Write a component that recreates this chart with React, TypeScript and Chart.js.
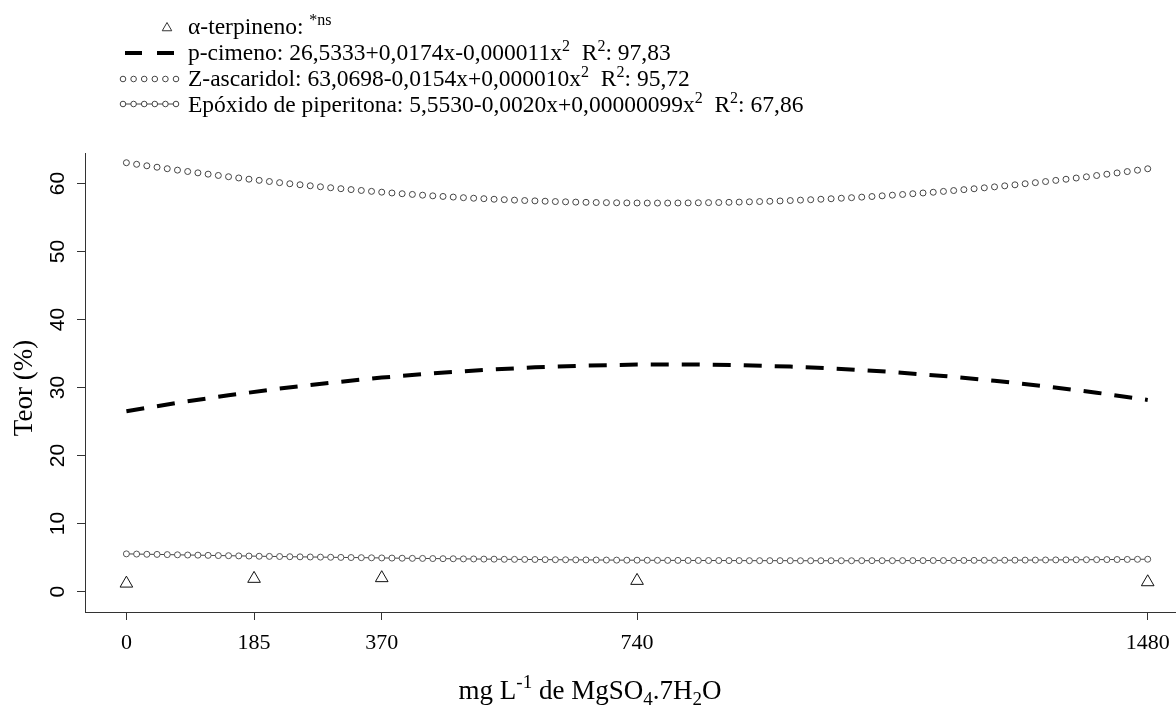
import React, { useEffect, useRef } from "react";
import { Chart, registerables } from "chart.js";

Chart.register(...registerables);

// ---- data ----
const doseX = [0, 185, 370, 740, 1480];
const alphaTerpineno = [1.2, 1.9, 2.0, 1.6, 1.4];

const cimenoX = [0, 74, 148, 222, 296, 370, 444, 518, 592, 666, 740, 814, 888, 962, 1036, 1110, 1184, 1258, 1332, 1406, 1480];
const pCimeno = [26.53, 27.76, 28.87, 29.85, 30.72, 31.47, 32.09, 32.59, 32.98, 33.24, 33.39, 33.41, 33.31, 33.09, 32.75, 32.29, 31.71, 31.01, 30.19, 29.25, 28.19];

const fineX = [0, 14.8, 29.6, 44.4, 59.2, 74, 88.8, 103.6, 118.4, 133.2, 148, 162.8, 177.6, 192.4, 207.2, 222, 236.8, 251.6, 266.4, 281.2, 296, 310.8, 325.6, 340.4, 355.2, 370, 384.8, 399.6, 414.4, 429.2, 444, 458.8, 473.6, 488.4, 503.2, 518, 532.8, 547.6, 562.4, 577.2, 592, 606.8, 621.6, 636.4, 651.2, 666, 680.8, 695.6, 710.4, 725.2, 740, 754.8, 769.6, 784.4, 799.2, 814, 828.8, 843.6, 858.4, 873.2, 888, 902.8, 917.6, 932.4, 947.2, 962, 976.8, 991.6, 1006.4, 1021.2, 1036, 1050.8, 1065.6, 1080.4, 1095.2, 1110, 1124.8, 1139.6, 1154.4, 1169.2, 1184, 1198.8, 1213.6, 1228.4, 1243.2, 1258, 1272.8, 1287.6, 1302.4, 1317.2, 1332, 1346.8, 1361.6, 1376.4, 1391.2, 1406, 1420.8, 1435.6, 1450.4, 1465.2, 1480];

const zAscaridol = [63.07, 62.84, 62.62, 62.41, 62.19, 61.98, 61.78, 61.58, 61.39, 61.2, 61.01, 60.83, 60.65, 60.48, 60.31, 60.14, 59.98, 59.83, 59.68, 59.53, 59.39, 59.25, 59.12, 58.99, 58.86, 58.74, 58.62, 58.51, 58.41, 58.3, 58.2, 58.11, 58.02, 57.93, 57.85, 57.78, 57.7, 57.64, 57.57, 57.51, 57.46, 57.41, 57.36, 57.32, 57.28, 57.25, 57.22, 57.2, 57.18, 57.16, 57.15, 57.14, 57.14, 57.14, 57.15, 57.16, 57.18, 57.2, 57.22, 57.25, 57.28, 57.32, 57.36, 57.4, 57.45, 57.51, 57.57, 57.63, 57.7, 57.77, 57.85, 57.93, 58.01, 58.1, 58.2, 58.3, 58.4, 58.51, 58.62, 58.73, 58.85, 58.98, 59.11, 59.24, 59.38, 59.52, 59.67, 59.82, 59.98, 60.14, 60.3, 60.47, 60.64, 60.82, 61.0, 61.19, 61.38, 61.57, 61.77, 61.97, 62.18];

const epoxido = [5.55, 5.52, 5.49, 5.47, 5.44, 5.41, 5.38, 5.36, 5.33, 5.3, 5.28, 5.25, 5.23, 5.2, 5.18, 5.16, 5.13, 5.11, 5.09, 5.07, 5.05, 5.03, 5.01, 4.99, 4.97, 4.95, 4.93, 4.91, 4.89, 4.88, 4.86, 4.84, 4.83, 4.81, 4.8, 4.78, 4.77, 4.75, 4.74, 4.73, 4.72, 4.7, 4.69, 4.68, 4.67, 4.66, 4.65, 4.64, 4.63, 4.62, 4.62, 4.61, 4.6, 4.59, 4.59, 4.58, 4.58, 4.57, 4.57, 4.56, 4.56, 4.55, 4.55, 4.55, 4.55, 4.55, 4.54, 4.54, 4.54, 4.54, 4.54, 4.54, 4.55, 4.55, 4.55, 4.55, 4.56, 4.56, 4.56, 4.57, 4.57, 4.58, 4.58, 4.59, 4.6, 4.6, 4.61, 4.62, 4.63, 4.64, 4.65, 4.66, 4.67, 4.68, 4.69, 4.7, 4.71, 4.72, 4.73, 4.75, 4.76];

const xTicks = [0, 185, 370, 740, 1480];
const xTickLabels = ["0", "185", "370", "740", "1480"];
const yTicks = [0, 10, 20, 30, 40, 50, 60];
const yTickLabels = ["0", "10", "20", "30", "40", "50", "60"];

type Seg = { t: string; k?: "sup" | "sub" };

const legendRows: Seg[][] = [
  [{ t: "α-terpineno: " }, { t: "*ns", k: "sup" }],
  [{ t: "p-cimeno: 26,5333+0,0174x-0,000011x" }, { t: "2", k: "sup" }, { t: "  R" }, { t: "2", k: "sup" }, { t: ": 97,83" }],
  [{ t: "Z-ascaridol: 63,0698-0,0154x+0,000010x" }, { t: "2", k: "sup" }, { t: "  R" }, { t: "2", k: "sup" }, { t: ": 95,72" }],
  [{ t: "Epóxido de piperitona: 5,5530-0,0020x+0,00000099x" }, { t: "2", k: "sup" }, { t: "  R" }, { t: "2", k: "sup" }, { t: ": 67,86" }],
];

const xTitle: Seg[] = [{ t: "mg L" }, { t: "-1", k: "sup" }, { t: " de MgSO" }, { t: "4", k: "sub" }, { t: ".7H" }, { t: "2", k: "sub" }, { t: "O" }];
const yTitle = "Teor (%)";

const SERIF = "'Liberation Serif', 'Times New Roman', serif";
const SANS = "'Liberation Sans', Arial, sans-serif";

function drawRich(ctx: CanvasRenderingContext2D, segs: Seg[], x: number, y: number, size: number, align: "left" | "center") {
  const small = Math.round(size * 0.7);
  let w = 0;
  for (const s of segs) {
    ctx.font = `${s.k ? small : size}px ${SERIF}`;
    w += ctx.measureText(s.t).width;
  }
  let cx = align === "center" ? x - w / 2 : x;
  ctx.textAlign = "left";
  ctx.textBaseline = "alphabetic";
  for (const s of segs) {
    ctx.font = `${s.k ? small : size}px ${SERIF}`;
    const dy = s.k === "sup" ? -size * 0.4 : s.k === "sub" ? size * 0.22 : 0;
    ctx.fillText(s.t, cx, y + dy);
    cx += ctx.measureText(s.t).width;
  }
}

const decorPlugin = {
  id: "decor",
  afterDraw(chart: any) {
    const ctx: CanvasRenderingContext2D = chart.ctx;
    const xs = chart.scales.x;
    const ys = chart.scales.y;
    ctx.save();
    ctx.fillStyle = "#000";
    // x tick labels
    ctx.font = `22px ${SERIF}`;
    ctx.textAlign = "center";
    ctx.textBaseline = "alphabetic";
    xTicks.forEach((v, i) => {
      ctx.fillText(xTickLabels[i], xs.getPixelForValue(v), 649);
    });
    // y tick labels (rotated)
    ctx.font = `21px ${SANS}`;
    yTicks.forEach((v, i) => {
      ctx.save();
      ctx.translate(63.5, ys.getPixelForValue(v));
      ctx.rotate(-Math.PI / 2);
      ctx.textAlign = "center";
      ctx.textBaseline = "alphabetic";
      ctx.fillText(yTickLabels[i], 0, 0);
      ctx.restore();
    });
    // axis titles
    drawRich(ctx, xTitle, 590, 699, 27, "center");
    ctx.save();
    ctx.translate(32, 388);
    ctx.rotate(-Math.PI / 2);
    ctx.font = `27px ${SERIF}`;
    ctx.textAlign = "center";
    ctx.textBaseline = "alphabetic";
    ctx.fillText(yTitle, 0, 0);
    ctx.restore();

    // legend
    const textX = 188;
    const baselines = [34, 60, 86, 112];
    const symY = [28, 53, 79, 104];
    legendRows.forEach((row, i) => drawRich(ctx, row, textX, baselines[i], 23.5, "left"));
    // triangle
    ctx.strokeStyle = "#333";
    ctx.lineWidth = 1;
    const r = 5.5;
    ctx.beginPath();
    ctx.moveTo(167, symY[0] - r);
    ctx.lineTo(167 + r * 0.866, symY[0] + r / 2);
    ctx.lineTo(167 - r * 0.866, symY[0] + r / 2);
    ctx.closePath();
    ctx.stroke();
    // dashed line
    ctx.save();
    ctx.strokeStyle = "#000";
    ctx.lineWidth = 4;
    ctx.setLineDash([17, 15]);
    ctx.beginPath();
    ctx.moveTo(125, symY[1]);
    ctx.lineTo(175, symY[1]);
    ctx.stroke();
    ctx.restore();
    // circles row
    ctx.strokeStyle = "#444";
    ctx.lineWidth = 1;
    for (let k = 0; k < 6; k++) {
      ctx.beginPath();
      ctx.arc(123 + k * 10.6, symY[2], 2.8, 0, Math.PI * 2);
      ctx.stroke();
    }
    // line + circles row
    ctx.beginPath();
    ctx.moveTo(120, symY[3]);
    ctx.lineTo(179, symY[3]);
    ctx.stroke();
    ctx.fillStyle = "#fff";
    for (let k = 0; k < 6; k++) {
      ctx.beginPath();
      ctx.arc(123 + k * 10.6, symY[3], 2.8, 0, Math.PI * 2);
      ctx.fill();
      ctx.stroke();
    }
    ctx.restore();
  },
};

export default function App() {
  const ref = useRef<HTMLCanvasElement | null>(null);
  useEffect(() => {
    if (!ref.current) return;
    const chart = new Chart(ref.current, {
      type: "scatter",
      data: {
        datasets: [
          {
            label: "α-terpineno",
            data: doseX.map((x, i) => ({ x, y: alphaTerpineno[i] })),
            showLine: false,
            pointStyle: "triangle",
            pointRadius: 7.3,
            pointBorderColor: "#111",
            pointBackgroundColor: "rgba(0,0,0,0)",
            pointBorderWidth: 1,
          },
          {
            label: "p-cimeno",
            data: cimenoX.map((x, i) => ({ x, y: pCimeno[i] })),
            showLine: true,
            borderColor: "#000",
            borderWidth: 4,
            borderDash: [18, 13],
            borderCapStyle: "butt",
            pointRadius: 0,
            tension: 0,
          },
          {
            label: "Z-ascaridol",
            data: fineX.map((x, i) => ({ x, y: zAscaridol[i] })),
            showLine: false,
            pointStyle: "circle",
            pointRadius: 3,
            pointBorderColor: "#444",
            pointBackgroundColor: "rgba(0,0,0,0)",
            pointBorderWidth: 1,
          },
          {
            label: "Epóxido de piperitona",
            data: fineX.map((x, i) => ({ x, y: epoxido[i] })),
            showLine: true,
            borderColor: "#444",
            borderWidth: 1,
            pointStyle: "circle",
            pointRadius: 3,
            pointBorderColor: "#555",
            pointBackgroundColor: "#fff",
            pointBorderWidth: 1,
            tension: 0,
          },
        ],
      },
      options: {
        animation: false,
        responsive: false,
        devicePixelRatio: 1,
        layout: { autoPadding: false, padding: { left: 77, right: 0, top: 153, bottom: 87 } },
        plugins: { legend: { display: false }, tooltip: { enabled: false } },
        scales: {
          x: {
            type: "linear",
            min: -60,
            max: 1521,
            afterBuildTicks: (s: any) => {
              s.ticks = xTicks.map((v) => ({ value: v }));
            },
            ticks: { display: false },
            grid: { display: true, drawOnChartArea: false, drawTicks: true, tickLength: 8, tickColor: "#333", tickWidth: 1 },
            border: { display: true, color: "#333", width: 1 },
          },
          y: {
            type: "linear",
            min: -3,
            max: 64.5,
            afterBuildTicks: (s: any) => {
              s.ticks = yTicks.map((v) => ({ value: v }));
            },
            ticks: { display: false },
            grid: { display: true, drawOnChartArea: false, drawTicks: true, tickLength: 8, tickColor: "#333", tickWidth: 1 },
            border: { display: true, color: "#333", width: 1 },
          },
        },
      },
      plugins: [decorPlugin],
    } as any);
    return () => chart.destroy();
  }, []);
  return (
    <div style={{ position: "fixed", left: 0, top: 0, width: 1176, height: 707, background: "#fff" }}>
      <canvas ref={ref} width={1176} height={707} style={{ display: "block" }} />
    </div>
  );
}
